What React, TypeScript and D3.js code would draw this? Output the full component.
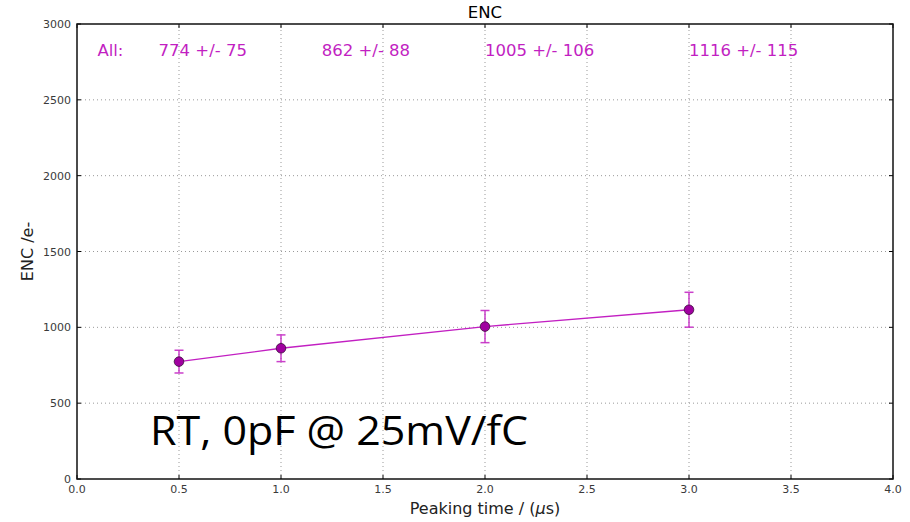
import React from 'react'
import * as d3 from 'd3'

// measured points
const peakingTimes = [0.5, 1.0, 2.0, 3.0]
const encMeans = [774, 862, 1005, 1116]
const encErrors = [75, 88, 106, 115]

// text annotations across the top
const noteLabels = ['All:', '774 +/- 75', '862 +/- 88', '1005 +/- 106', '1116 +/- 115']
const noteX = [0.1, 0.4, 1.2, 2.0, 3.0]
const noteY = 2790

const xTicks = [0, 0.5, 1, 1.5, 2, 2.5, 3, 3.5, 4]
const yTicks = [0, 500, 1000, 1500, 2000, 2500, 3000]

const W = 910
const H = 522
const margin = {left: 77, right: 17, top: 24, bottom: 43}

const mag = '#c21fc2'

const App = () => {
  const x = d3.scaleLinear().domain([0, 4]).range([margin.left, W - margin.right])
  const y = d3.scaleLinear().domain([0, 3000]).range([H - margin.bottom, margin.top])
  const [x0, x1] = x.range()
  const [y0, y1] = y.range()
  const cx = (x0 + x1) / 2
  const cy = (y0 + y1) / 2

  const points = peakingTimes.map((t, i) => ({t, v: encMeans[i], e: encErrors[i]}))
  const line = d3
    .line<{t: number; v: number}>()
    .x((d) => x(d.t))
    .y((d) => y(d.v))

  const tickFont = {fontFamily: 'DejaVu Sans', fontSize: 11, fill: '#3a3a3a'}

  return (
    <svg
      width={W}
      height={H}
      style={{position: 'absolute', left: 0, top: 0, background: '#fff'}}
    >
      {/* grid */}
      <g stroke="#999" strokeWidth={1} strokeDasharray="1,3">
        {xTicks.slice(1, -1).map((t) => (
          <line key={'gx' + t} x1={x(t)} x2={x(t)} y1={y0} y2={y1} />
        ))}
        {yTicks.slice(1, -1).map((t) => (
          <line key={'gy' + t} x1={x0} x2={x1} y1={y(t)} y2={y(t)} />
        ))}
      </g>

      {/* inward ticks on all sides */}
      <g stroke="#000" strokeWidth={1}>
        {xTicks.map((t) => (
          <g key={'tx' + t}>
            <line x1={x(t)} x2={x(t)} y1={y0} y2={y0 - 4} />
            <line x1={x(t)} x2={x(t)} y1={y1} y2={y1 + 4} />
          </g>
        ))}
        {yTicks.map((t) => (
          <g key={'ty' + t}>
            <line x1={x0} x2={x0 + 4} y1={y(t)} y2={y(t)} />
            <line x1={x1} x2={x1 - 4} y1={y(t)} y2={y(t)} />
          </g>
        ))}
      </g>

      {/* tick labels */}
      {xTicks.map((t) => (
        <text key={'lx' + t} x={x(t)} y={y0 + 14} textAnchor="middle" {...tickFont}>
          {d3.format('.1f')(t)}
        </text>
      ))}
      {yTicks.map((t) => (
        <text key={'ly' + t} x={x0 - 6} y={y(t) + 4} textAnchor="end" {...tickFont}>
          {t}
        </text>
      ))}

      {/* data */}
      <path d={line(points) || ''} fill="none" stroke={mag} strokeWidth={1.3} />
      <g stroke={mag} strokeWidth={1.5} opacity={0.85}>
        {points.map((p) => (
          <g key={'e' + p.t}>
            <line x1={x(p.t)} x2={x(p.t)} y1={y(p.v - p.e)} y2={y(p.v + p.e)} />
            <line x1={x(p.t) - 4.5} x2={x(p.t) + 4.5} y1={y(p.v - p.e)} y2={y(p.v - p.e)} />
            <line x1={x(p.t) - 4.5} x2={x(p.t) + 4.5} y1={y(p.v + p.e)} y2={y(p.v + p.e)} />
          </g>
        ))}
      </g>
      {points.map((p) => (
        <circle
          key={'m' + p.t}
          cx={x(p.t)}
          cy={y(p.v)}
          r={4.8}
          fill="#a000a0"
          stroke="#3a103a"
          strokeWidth={0.8}
        />
      ))}

      {/* annotations */}
      {noteLabels.map((s, i) => (
        <text
          key={'n' + i}
          x={x(noteX[i])}
          y={y(noteY)}
          fontFamily="DejaVu Sans"
          fontSize={16.5}
          fill={mag}
        >
          {s}
        </text>
      ))}

      {/* frame */}
      <rect
        x={x0}
        y={y1}
        width={x1 - x0}
        height={y0 - y1}
        fill="none"
        stroke="#111"
        strokeWidth={1.5}
      />

      {/* titles */}
      <text x={cx} y={18} textAnchor="middle" fontFamily="DejaVu Sans" fontSize={16.5}>
        ENC
      </text>
      <text
        transform={`translate(33,${cy}) rotate(-90)`}
        textAnchor="middle"
        fontFamily="DejaVu Sans"
        fontSize={16}
        fill="#222"
      >
        ENC /e-
      </text>
      <text
        x={cx}
        y={514}
        textAnchor="middle"
        fontFamily="DejaVu Sans"
        fontSize={16}
        fill="#222"
      >
        Peaking time / (<tspan fontStyle="italic">μ</tspan>s)
      </text>

      <text
        x={150}
        y={445}
        fontFamily="Open Sans"
        fontSize={41}
        textLength={378}
        lengthAdjust="spacingAndGlyphs"
        fill="#000"
      >
        RT, 0pF @ 25mV/fC
      </text>
    </svg>
  )
}

export default App
